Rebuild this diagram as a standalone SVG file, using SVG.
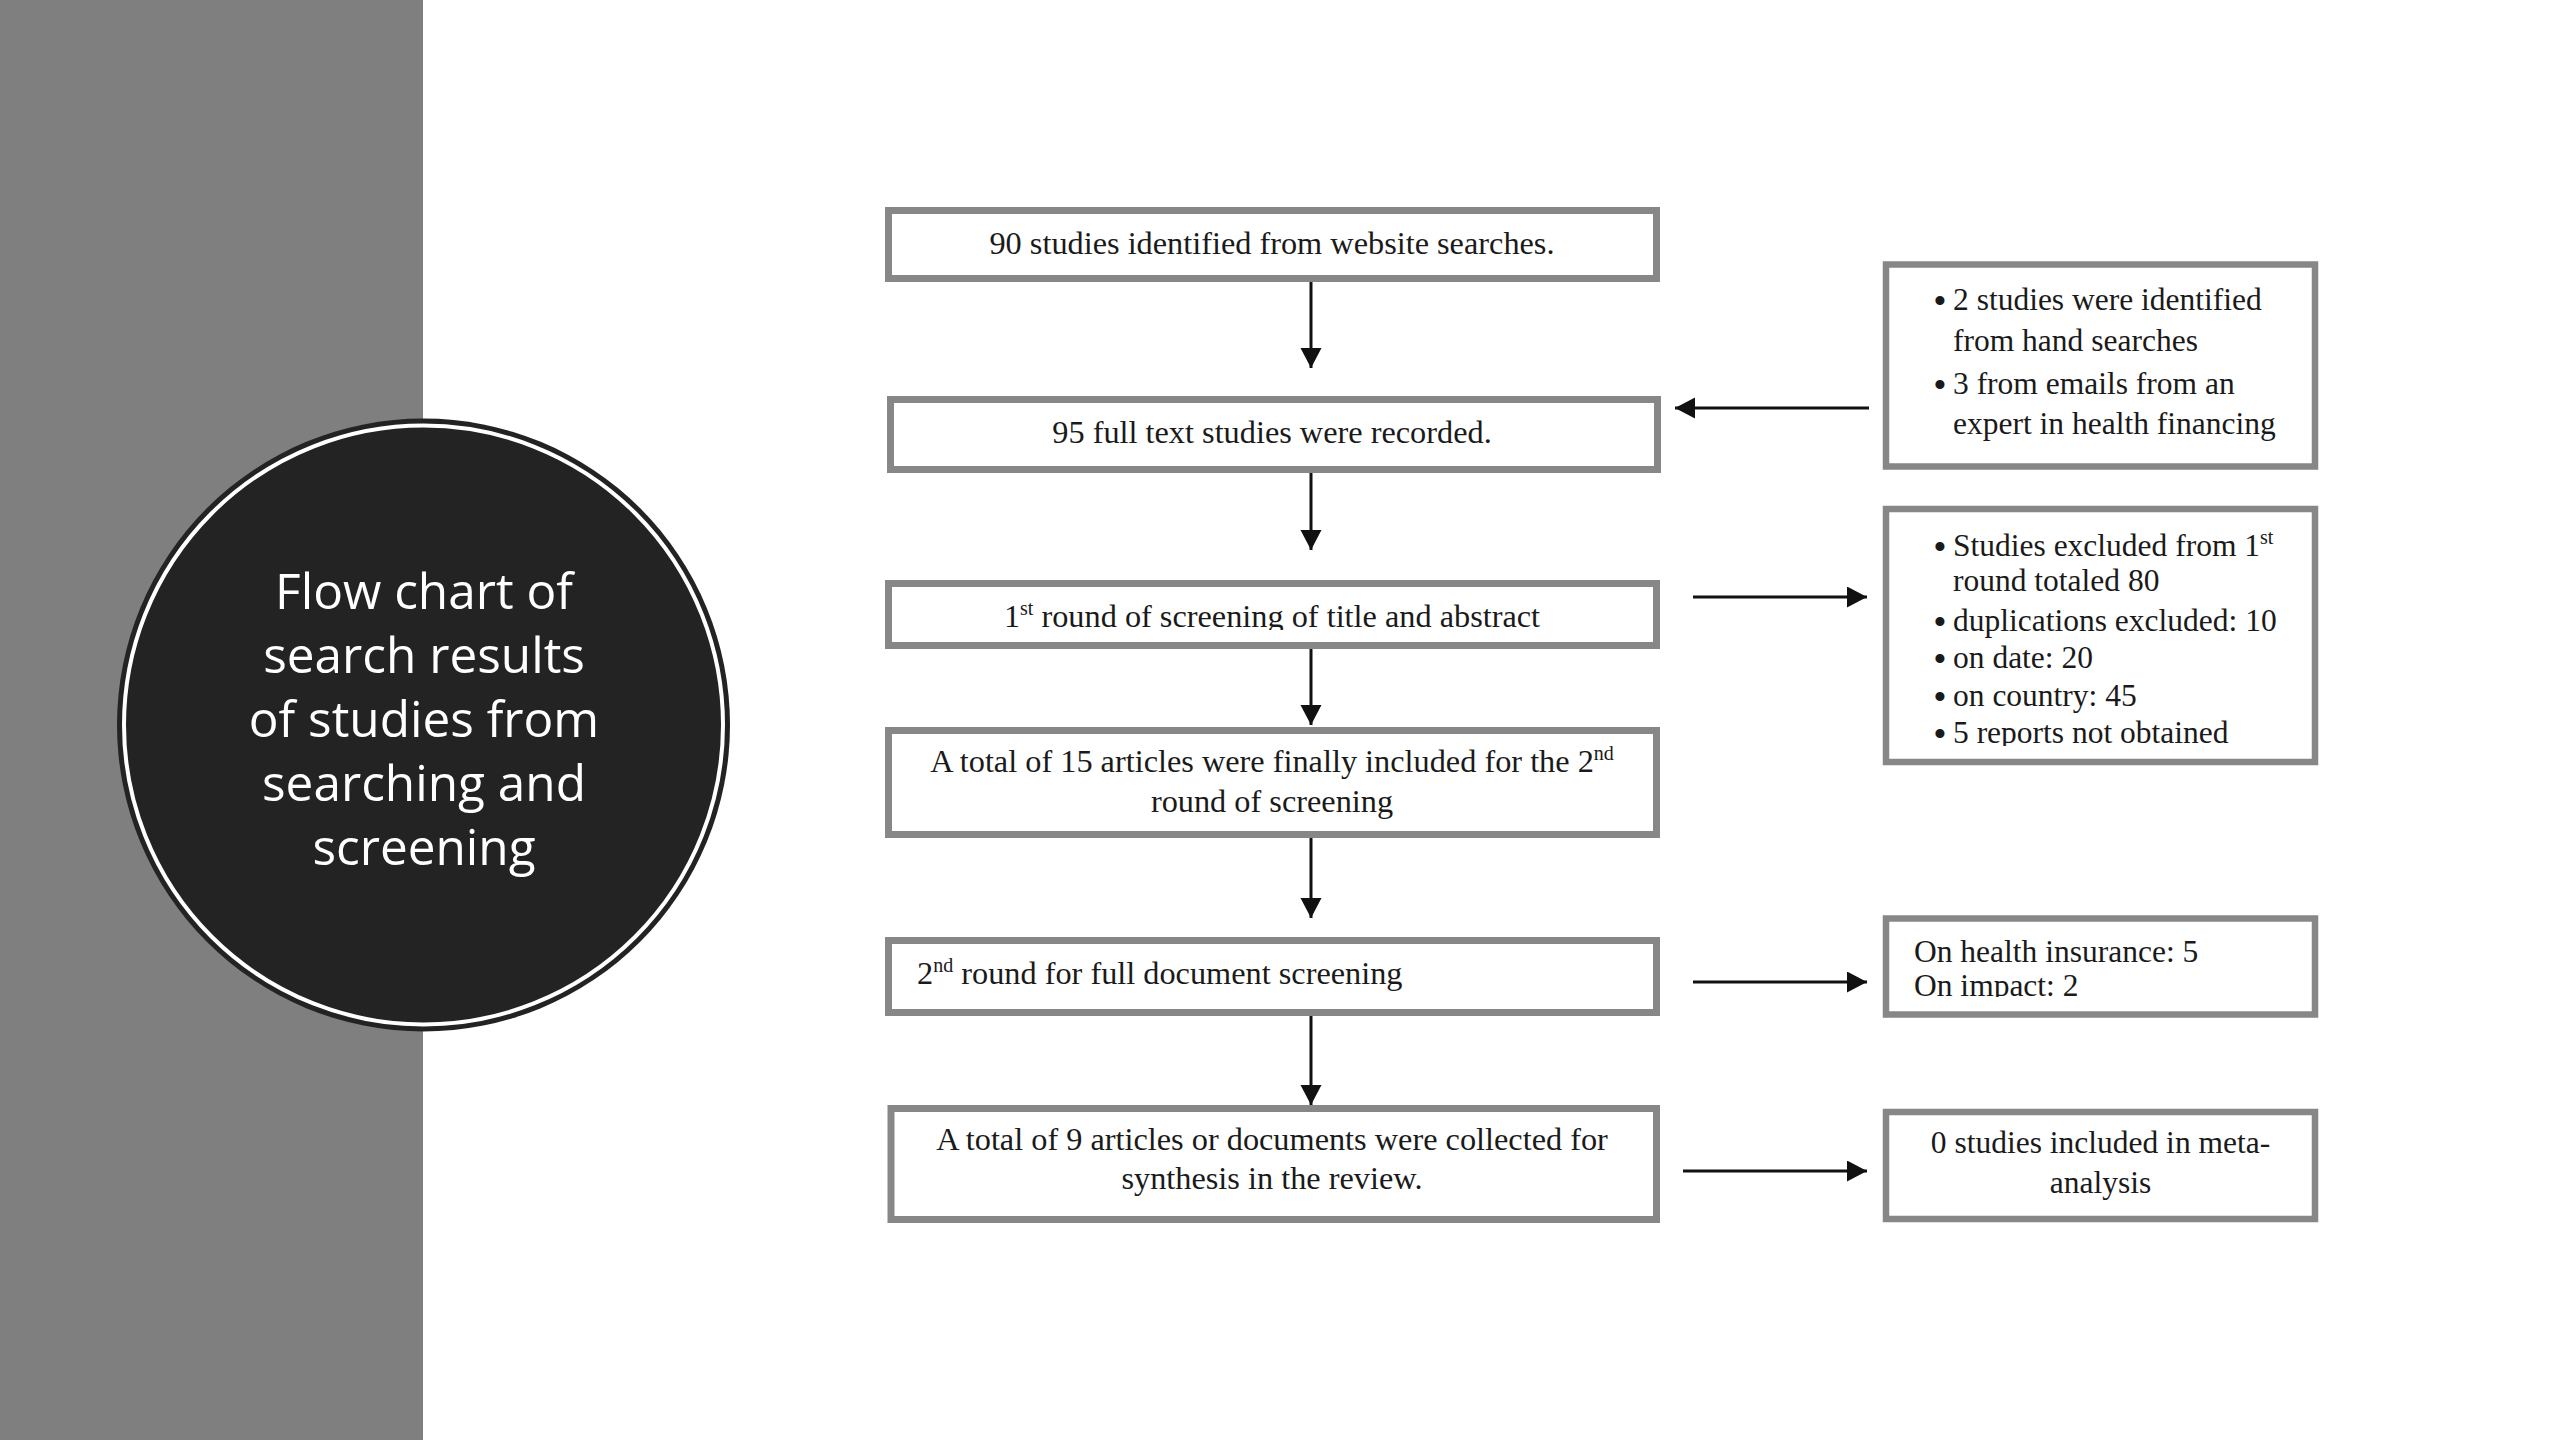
<svg xmlns="http://www.w3.org/2000/svg" width="2560" height="1440" viewBox="0 0 2560 1440">
  <defs>
    <style>
      .box { fill: #ffffff; stroke: #878787; stroke-width: 7; }
      .rbox { fill: #ffffff; stroke: #878787; stroke-width: 6.5; }
      .t { font-family: "Liberation Serif", "Times New Roman", serif; font-size: 32.3px; fill: #1a1a1a; }
      .tc { text-anchor: middle; }
      .rt { font-family: "Liberation Serif", "Times New Roman", serif; font-size: 31.5px; fill: #1a1a1a; }
      .bul { font-family: "Liberation Serif", "Times New Roman", serif; font-size: 38px; fill: #1a1a1a; text-anchor: middle; }
      .sup { font-size: 20px; }
      .title { font-family: "Open Sans", "Noto Sans", sans-serif; font-size: 49.5px; fill: #ffffff; text-anchor: middle; }
      .conn { stroke: #111111; stroke-width: 3; fill: none; }
    </style>
    <marker id="ah" markerUnits="userSpaceOnUse" markerWidth="22" markerHeight="22" refX="20" refY="10.5" orient="auto">
      <path d="M0,0 L20,10.5 L0,21 z" fill="#111111"/>
    </marker>
    <clipPath id="clip3"><rect x="892" y="587" width="761" height="43"/></clipPath>
    <clipPath id="clipR2"><rect x="1889" y="512" width="423" height="234"/></clipPath>
    <clipPath id="clipR3"><rect x="1889" y="922" width="423" height="75"/></clipPath>
  </defs>

  <rect id="background" x="0" y="0" width="2560" height="1440" fill="#ffffff"/>
  <rect id="side-panel" x="0" y="0" width="423" height="1440" fill="#7f7f7f"/>

  <g id="title-circle">
    <circle cx="423.5" cy="725" r="306.5" fill="#232323"/>
    <circle cx="423.5" cy="725" r="299.5" fill="none" stroke="#ffffff" stroke-width="4"/>
    <text class="title" x="424" y="609">Flow chart of</text>
    <text class="title" x="424" y="673">search results</text>
    <text class="title" x="424" y="737">of studies from</text>
    <text class="title" x="424" y="801">searching and</text>
    <text class="title" x="424" y="865">screening</text>
  </g>

  <g id="connectors">
    <line class="conn" x1="1311" y1="282" x2="1311" y2="368" marker-end="url(#ah)"/>
    <line class="conn" x1="1311" y1="473" x2="1311" y2="550" marker-end="url(#ah)"/>
    <line class="conn" x1="1311" y1="649" x2="1311" y2="725" marker-end="url(#ah)"/>
    <line class="conn" x1="1311" y1="838" x2="1311" y2="918" marker-end="url(#ah)"/>
    <line class="conn" x1="1311" y1="1016" x2="1311" y2="1105" marker-end="url(#ah)"/>
    <line class="conn" x1="1869" y1="408" x2="1675" y2="408" marker-end="url(#ah)"/>
    <line class="conn" x1="1693" y1="597" x2="1867" y2="597" marker-end="url(#ah)"/>
    <line class="conn" x1="1693" y1="982" x2="1867" y2="982" marker-end="url(#ah)"/>
    <line class="conn" x1="1683" y1="1171" x2="1867" y2="1171" marker-end="url(#ah)"/>
  </g>

  <g id="box-identified">
    <rect class="box" x="888.5" y="210.5" width="768" height="68"/>
    <text class="t tc" x="1272" y="254">90 studies identified from website searches.</text>
  </g>

  <g id="box-recorded">
    <rect class="box" x="890.5" y="399.5" width="767" height="70"/>
    <text class="t tc" x="1272" y="443">95 full text studies were recorded.</text>
  </g>

  <g id="box-first-round">
    <rect class="box" x="888.5" y="583.5" width="768" height="62"/>
    <text class="t tc" x="1272" y="627" clip-path="url(#clip3)">1<tspan class="sup" dy="-12">st</tspan><tspan dy="12"> round of screening of title and abstract</tspan></text>
  </g>

  <g id="box-fifteen">
    <rect class="box" x="888.5" y="730.5" width="768" height="104"/>
    <text class="t tc" x="1272" y="772">A total of 15 articles were finally included for the 2<tspan class="sup" dy="-12">nd</tspan></text>
    <text class="t tc" x="1272" y="812">round of screening</text>
  </g>

  <g id="box-second-round">
    <rect class="box" x="888.5" y="940.5" width="768" height="72"/>
    <text class="t" x="917" y="984">2<tspan class="sup" dy="-12">nd</tspan><tspan dy="12"> round for full document screening</tspan></text>
  </g>

  <g id="box-nine">
    <rect class="box" x="891" y="1108.5" width="765.5" height="111"/>
    <text class="t tc" x="1272" y="1150">A total of 9 articles or documents were collected for</text>
    <text class="t tc" x="1272" y="1189">synthesis in the review.</text>
  </g>

  <g id="box-hand-searches">
    <rect class="rbox" x="1886" y="264.5" width="429" height="202"/>
    <text class="bul" x="1940" y="314">•</text>
    <text class="rt" x="1953" y="310">2 studies were identified</text>
    <text class="rt" x="1953" y="351">from hand searches</text>
    <text class="bul" x="1940" y="398">•</text>
    <text class="rt" x="1953" y="394">3 from emails from an</text>
    <text class="rt" x="1953" y="434">expert in health financing</text>
  </g>

  <g id="box-excluded">
    <rect class="rbox" x="1886" y="509" width="429" height="253"/>
    <g clip-path="url(#clipR2)">
      <text class="bul" x="1940" y="560">•</text>
      <text class="rt" x="1953" y="556">Studies excluded from 1<tspan class="sup" dy="-12">st</tspan></text>
      <text class="rt" x="1953" y="591">round totaled 80</text>
      <text class="bul" x="1940" y="635">•</text>
      <text class="rt" x="1953" y="631">duplications excluded: 10</text>
      <text class="bul" x="1940" y="672">•</text>
      <text class="rt" x="1953" y="668">on date: 20</text>
      <text class="bul" x="1940" y="710">•</text>
      <text class="rt" x="1953" y="706">on country: 45</text>
      <text class="bul" x="1940" y="747">•</text>
      <text class="rt" x="1953" y="743">5 reports not obtained</text>
    </g>
  </g>

  <g id="box-full-doc-excluded">
    <rect class="rbox" x="1886" y="918.5" width="429" height="96"/>
    <g clip-path="url(#clipR3)">
      <text class="rt" x="1914" y="962">On health insurance: 5</text>
      <text class="rt" x="1914" y="995.5">On impact: 2</text>
    </g>
  </g>

  <g id="box-meta-analysis">
    <rect class="rbox" x="1886" y="1112" width="429" height="107"/>
    <text class="rt" x="2100.5" y="1153" text-anchor="middle">0 studies included in meta-</text>
    <text class="rt" x="2100.5" y="1192.5" text-anchor="middle">analysis</text>
  </g>
</svg>
